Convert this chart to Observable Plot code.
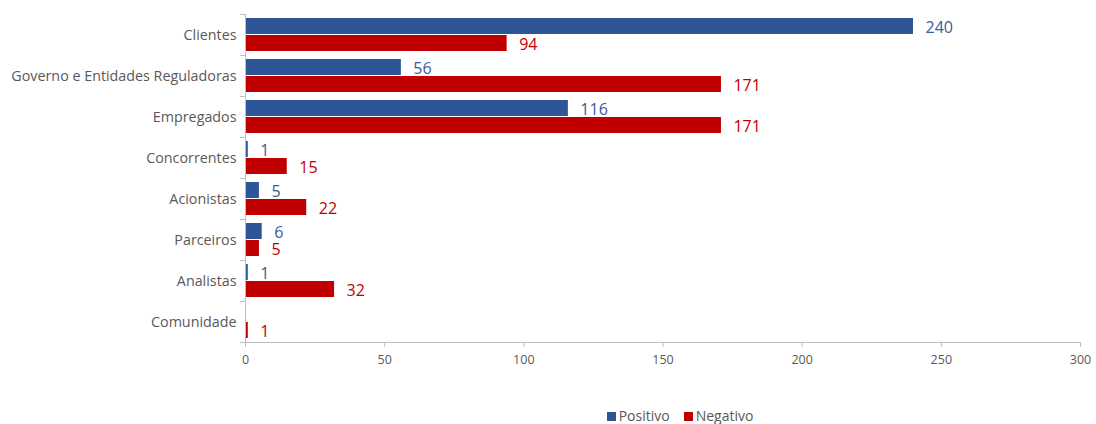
<!DOCTYPE html>
<html>
<head>
<meta charset="utf-8">
<script src="https://cdn.jsdelivr.net/npm/d3@7"></script>
<script src="https://cdn.jsdelivr.net/npm/@observablehq/plot@0.6"></script>
<style>
  body { margin: 0; background: #fff; font-family: "Open Sans", sans-serif; }
  #legend { display: flex; justify-content: center; gap: 14px; padding-top: 16px; font-size: 14px; color: #595959; padding-left: 264px; }
  #legend span.sw { display: inline-block; width: 9px; height: 9px; margin-right: 3px; vertical-align: 0px; }
</style>
</head>
<body>
<div id="chart"></div>
<div id="legend"></div>
<script>
const categories = ["Clientes", "Governo e Entidades Reguladoras", "Empregados", "Concorrentes", "Acionistas", "Parceiros", "Analistas", "Comunidade"];
const positivo = [240, 56, 116, 1, 5, 6, 1, null];
const negativo = [94, 171, 171, 15, 22, 5, 32, 1];
const seriesNames = ["Positivo", "Negativo"];
const colors = ["#2e5597", "#c00000"];
const xTicks = [0, 50, 100, 150, 200, 250, 300];

const pos = categories.map((c, i) => ({cat: c, value: positivo[i]})).filter(d => d.value != null);
const neg = categories.map((c, i) => ({cat: c, value: negativo[i]})).filter(d => d.value != null);
const axisColor = "#bfbfbf";
const textColor = "#595959";

const chart = Plot.plot({
  width: 1096,
  height: 390,
  marginLeft: 245,
  marginRight: 16,
  marginTop: 14,
  marginBottom: 48,
  style: {fontFamily: "'Open Sans', sans-serif", color: textColor},
  x: {domain: [0, 300]},
  y: {domain: categories, padding: 0},
  marks: [
    Plot.barX(pos, {x: "value", y: "cat", fill: colors[0], insetTop: 4, insetBottom: 21}),
    Plot.barX(neg, {x: "value", y: "cat", fill: colors[1], insetTop: 21, insetBottom: 4}),
    Plot.text(pos, {x: "value", y: "cat", text: d => String(d.value), dx: 12, dy: -7.5, textAnchor: "start", fill: "#3b5a9a", fontSize: 16}),
    Plot.text(neg, {x: "value", y: "cat", text: d => String(d.value), dx: 12, dy: 9.5, textAnchor: "start", fill: "#c00000", fontSize: 16}),
    Plot.ruleX([0], {stroke: axisColor}),
    Plot.ruleY(categories, {y: d => d, x1: 0, x2: 0, insetLeft: -5, dy: -20.5, stroke: axisColor}),
    Plot.ruleY([categories[categories.length - 1]], {y: d => d, x1: 0, x2: 300, insetLeft: -5, dy: 20.5, stroke: axisColor}),
    Plot.axisY({tickSize: 0, tickPadding: 9, fontSize: 14.3, label: null, fill: textColor}),
    Plot.axisX({ticks: xTicks, tickSize: 5, tickPadding: 8, fontSize: 12.5, label: null, stroke: axisColor, fill: textColor})
  ]
});
document.getElementById("chart").appendChild(chart);

const legend = document.getElementById("legend");
seriesNames.forEach((name, i) => {
  const item = document.createElement("div");
  item.innerHTML = `<span class="sw" style="background:${colors[i]}"></span>${name}`;
  legend.appendChild(item);
});
</script>
</body>
</html>
